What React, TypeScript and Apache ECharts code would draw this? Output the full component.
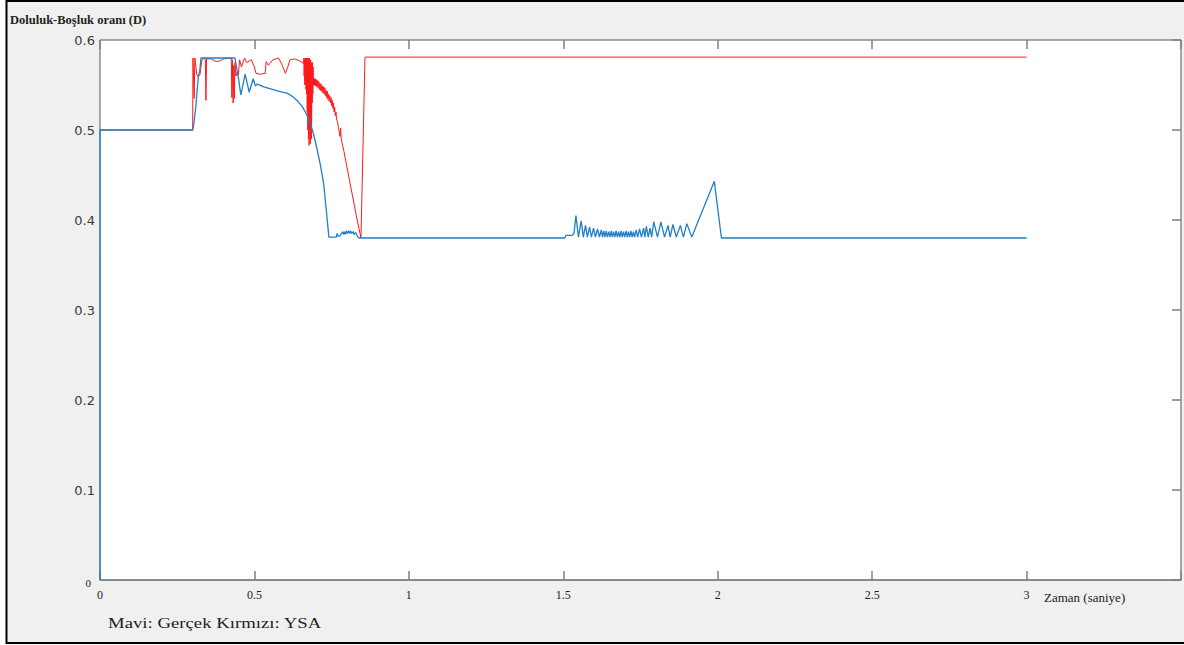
import React, { useEffect, useRef } from "react";
import * as echarts from "echarts";

// Time axis (saniye) tick labels
const xTicks = ["0", "0.5", "1", "1.5", "2", "2.5", "3"];
const yTicks = ["0", "0.1", "0.2", "0.3", "0.4", "0.5", "0.6"];

// Mavi: Gerçek (blue)
const gercekData: [number, number][] = [
  [0, 0], [0, 0.5], [0.3, 0.5], [0.303, 0.505], [0.31, 0.525], [0.316, 0.55], [0.319, 0.561],
  [0.323, 0.566], [0.327, 0.58], [0.437, 0.58], [0.448, 0.558], [0.456, 0.539], [0.47, 0.562],
  [0.483, 0.542], [0.496, 0.557], [0.503, 0.549], [0.51, 0.551], [0.53, 0.548], [0.55, 0.546],
  [0.58, 0.543], [0.605, 0.541], [0.625, 0.537], [0.64, 0.532], [0.655, 0.526], [0.668, 0.518],
  [0.68, 0.508], [0.692, 0.495], [0.702, 0.48], [0.713, 0.462], [0.724, 0.441], [0.733, 0.41],
  [0.741, 0.381], [0.765, 0.381], [0.768, 0.385], [0.771, 0.382], [0.776, 0.382], [0.782, 0.385],
  [0.786, 0.387], [0.788, 0.384], [0.792, 0.387], [0.794, 0.384], [0.798, 0.388], [0.8, 0.385],
  [0.805, 0.388], [0.807, 0.385], [0.812, 0.388], [0.814, 0.385], [0.82, 0.387], [0.822, 0.384],
  [0.828, 0.386], [0.832, 0.383], [0.838, 0.38], [1.505, 0.38], [1.509, 0.383], [1.53, 0.383],
  [1.535, 0.386], [1.541, 0.405], [1.549, 0.381], [1.558, 0.399], [1.565, 0.381], [1.572, 0.394],
  [1.578, 0.381], [1.585, 0.392], [1.591, 0.381], [1.598, 0.391], [1.604, 0.381], [1.611, 0.39],
  [1.617, 0.381], [1.623, 0.389], [1.627, 0.381], [1.631, 0.388], [1.635, 0.381], [1.639, 0.388],
  [1.643, 0.381], [1.647, 0.387], [1.651, 0.381], [1.655, 0.388], [1.659, 0.381], [1.663, 0.387],
  [1.667, 0.381], [1.671, 0.388], [1.675, 0.381], [1.679, 0.387], [1.683, 0.381], [1.687, 0.388],
  [1.691, 0.381], [1.695, 0.387], [1.699, 0.381], [1.703, 0.388], [1.707, 0.381], [1.711, 0.387],
  [1.715, 0.381], [1.719, 0.388], [1.723, 0.381], [1.727, 0.387], [1.731, 0.381], [1.736, 0.389],
  [1.741, 0.381], [1.747, 0.39], [1.753, 0.381], [1.76, 0.391], [1.764, 0.381], [1.769, 0.393],
  [1.775, 0.381], [1.781, 0.391], [1.786, 0.381], [1.793, 0.398], [1.805, 0.381], [1.816, 0.398],
  [1.828, 0.381], [1.839, 0.394], [1.846, 0.381], [1.855, 0.395], [1.866, 0.381], [1.879, 0.394],
  [1.889, 0.381], [1.9, 0.396], [1.916, 0.381], [1.989, 0.443], [2.012, 0.38], [3, 0.38],
];

// Kırmızı: YSA (red)
const ysaData: [number, number][] = [
  [0, 0.5], [0.3, 0.5], [0.301, 0.58], [0.303, 0.58], [0.305, 0.535], [0.307, 0.58], [0.309, 0.575],
  [0.313, 0.562], [0.318, 0.559], [0.324, 0.562], [0.33, 0.578], [0.338, 0.58], [0.341, 0.578],
  [0.343, 0.533], [0.345, 0.579], [0.36, 0.579], [0.37, 0.577], [0.38, 0.576], [0.39, 0.577],
  [0.4, 0.579], [0.425, 0.58], [0.427, 0.536], [0.429, 0.578], [0.431, 0.53], [0.433, 0.572],
  [0.435, 0.535], [0.437, 0.575], [0.44, 0.56], [0.445, 0.565], [0.448, 0.561], [0.452, 0.578],
  [0.458, 0.57], [0.468, 0.58], [0.475, 0.575], [0.49, 0.578], [0.5, 0.57], [0.505, 0.563],
  [0.52, 0.562], [0.535, 0.563], [0.538, 0.576], [0.545, 0.572], [0.56, 0.578], [0.578, 0.58],
  [0.59, 0.572], [0.6, 0.563], [0.608, 0.57], [0.615, 0.578], [0.63, 0.579], [0.645, 0.577],
  [0.659, 0.574],
  [0.66, 0.58], [0.661, 0.56], [0.662, 0.578], [0.663, 0.55], [0.664, 0.58], [0.665, 0.555],
  [0.666, 0.58], [0.667, 0.545], [0.668, 0.58], [0.669, 0.54], [0.67, 0.578], [0.671, 0.52],
  [0.672, 0.58], [0.673, 0.5], [0.674, 0.58], [0.675, 0.49], [0.676, 0.575], [0.677, 0.483],
  [0.678, 0.58], [0.679, 0.5], [0.68, 0.575], [0.681, 0.485], [0.682, 0.578], [0.683, 0.51],
  [0.684, 0.575], [0.685, 0.49], [0.686, 0.57], [0.687, 0.53], [0.688, 0.575], [0.689, 0.54],
  [0.69, 0.57], [0.691, 0.55],
  [0.692, 0.557], [0.693, 0.55], [0.694, 0.557], [0.695, 0.55], [0.696, 0.557], [0.697, 0.549],
  [0.698, 0.556], [0.699, 0.549], [0.7, 0.556], [0.702, 0.548], [0.704, 0.555], [0.706, 0.547],
  [0.708, 0.554], [0.71, 0.545], [0.712, 0.552], [0.714, 0.544], [0.716, 0.551], [0.718, 0.543],
  [0.72, 0.549], [0.722, 0.541], [0.724, 0.548], [0.726, 0.54], [0.728, 0.547], [0.73, 0.538],
  [0.732, 0.544], [0.734, 0.536], [0.736, 0.543], [0.738, 0.534], [0.74, 0.54], [0.742, 0.532],
  [0.744, 0.538], [0.746, 0.53], [0.748, 0.536], [0.75, 0.527], [0.752, 0.533], [0.754, 0.524],
  [0.756, 0.53], [0.758, 0.52], [0.76, 0.525], [0.762, 0.516], [0.764, 0.52], [0.766, 0.512],
  [0.769, 0.509], [0.772, 0.503], [0.775, 0.497], [0.777, 0.493], [0.779, 0.502], [0.781, 0.49],
  [0.79, 0.476], [0.8, 0.458], [0.81, 0.44], [0.821, 0.421], [0.832, 0.401], [0.845, 0.38],
  [0.858, 0.581], [3, 0.581],
];

const titleText = "Doluluk-Boşluk oranı (D)";
const legendText = "Mavi: Gerçek Kırmızı: YSA";
const xAxisName = "Zaman (saniye)";

export default function App() {
  const ref = useRef<HTMLDivElement>(null);
  useEffect(() => {
    const chart = echarts.init(ref.current!, null, { renderer: "svg" });
    const tickStyle = { color: "#808080", width: 1.5 };
    chart.setOption({
      animation: false,
      backgroundColor: "#f0f0f0",
      grid: {
        left: 100, top: 40, right: 3, bottom: 65, show: true,
        backgroundColor: "#ffffff", borderColor: "#555555", borderWidth: 1,
      },
      xAxis: [
        {
          type: "value", min: 0, max: 3.5, interval: 0.5, position: "bottom",
          axisLine: { show: true, onZero: false, lineStyle: { color: "#808080", width: 1.5 } },
          axisTick: { show: true, inside: true, length: 9, lineStyle: tickStyle },
          axisLabel: {
            formatter: (v: number) => {
              const i = Math.round(v / 0.5);
              return i < xTicks.length ? xTicks[i] : "";
            },
            fontFamily: "Liberation Serif", fontSize: 12, color: "#222222", margin: 9,
          },
          splitLine: { show: false },
        },
        {
          type: "value", min: 0, max: 3.5, interval: 0.5, position: "top",
          axisLine: { show: false, onZero: false },
          axisTick: { show: true, inside: true, length: 9, lineStyle: tickStyle },
          axisLabel: { show: false },
          splitLine: { show: false },
        },
      ],
      yAxis: [
        {
          type: "value", min: 0, max: 0.6, interval: 0.1, position: "left",
          axisLine: { show: false, onZero: false },
          axisTick: { show: false },
          axisLabel: {
            formatter: (v: number) => {
              const i = Math.round(v / 0.1);
              return i === 0 ? "{z|" + yTicks[0] + "}" : yTicks[i];
            },
            fontFamily: "DejaVu Sans", fontSize: 13, color: "#3a3a3a", margin: 5,
            rich: {
              z: { fontFamily: "Liberation Serif", fontSize: 11, color: "#222222", padding: [6, 4, 0, 0] },
            },
          },
          splitLine: { show: false },
        },
        {
          type: "value", min: 0, max: 0.6, interval: 0.1, position: "right",
          axisLine: { show: false, onZero: false },
          axisTick: { show: true, inside: true, length: 9, lineStyle: tickStyle },
          axisLabel: { show: false },
          splitLine: { show: false },
        },
      ],
      series: [
        {
          name: "YSA", type: "line", data: ysaData, xAxisIndex: 0, yAxisIndex: 0,
          showSymbol: false, symbol: "none",
          lineStyle: { color: "#ff1a1a", width: 1 },
        },
        {
          name: "Gerçek", type: "line", data: gercekData, xAxisIndex: 0, yAxisIndex: 0,
          showSymbol: false, symbol: "none",
          lineStyle: { color: "#1f80c9", width: 1.3 },
        },
      ],
      graphic: [
        { type: "rect", silent: true, shape: { x: 0, y: 0, width: 5.5, height: 645 }, style: { fill: "#ffffff" } },
        {
          type: "rect", silent: true, shape: { x: 6.5, y: 1, width: 1190, height: 642 },
          style: { fill: "rgba(0,0,0,0)", stroke: "#000000", lineWidth: 2 },
        },
        {
          type: "text", x: 10, y: 20, silent: true,
          style: {
            text: titleText, fontFamily: "Liberation Serif", fontSize: 12.5, fontWeight: "bold",
            fill: "#222222", verticalAlign: "middle", align: "left",
          },
        },
        {
          type: "text", x: 108, y: 623, scaleX: 1.25, silent: true,
          style: {
            text: legendText, fontFamily: "Liberation Serif", fontSize: 15,
            fill: "#222222", verticalAlign: "middle", align: "left",
          },
        },
        {
          type: "text", x: 1044, y: 597, silent: true,
          style: {
            text: xAxisName, fontFamily: "Liberation Serif", fontSize: 13,
            fill: "#222222", verticalAlign: "middle", align: "left",
          },
        },
      ],
    });
    return () => chart.dispose();
  }, []);
  return (
    <div
      ref={ref}
      style={{ position: "fixed", left: 0, top: 0, width: 1184, height: 645 }}
    />
  );
}
